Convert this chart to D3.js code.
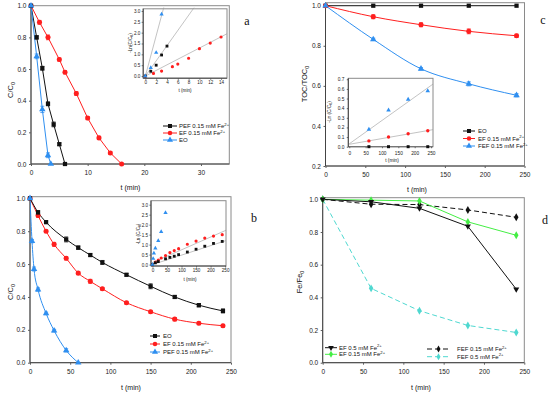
<!DOCTYPE html>
<html>
<head>
<meta charset="utf-8">
<script src="https://cdn.jsdelivr.net/npm/d3@7"></script>
<style>
  body { margin: 0; background: #fff; }
  svg { display: block; font-family: "Liberation Sans", Arial, sans-serif; }
</style>
</head>
<body>
<svg id="fig" width="550" height="394"></svg>
<script>
// ---------- panel a : C/C0 vs t ----------
const aPEF_t = [0, 1, 2, 3, 4, 5, 6];
const aPEF_c = [1, 0.80, 0.605, 0.38, 0.25, 0.125, 0];
const aPEF_e = [0, 0.01, 0.012, 0.012, 0.015, 0.008, 0];
const aEF_t = [0, 1.5, 3, 5, 6, 8, 10, 12, 14, 16];
const aEF_c = [1, 0.895, 0.80, 0.66, 0.58, 0.445, 0.29, 0.165, 0.07, 0];
const aEF_e = [0, 0.012, 0.015, 0.01, 0.01, 0.012, 0.01, 0.01, 0.008, 0];
const aEO_t = [0, 1, 2, 3, 3.5];
const aEO_c = [1, 0.68, 0.345, 0.055, 0];
const aEO_e = [0, 0.015, 0.02, 0.015, 0];
// inset a : -Ln(C/C0)
const aiPEF_t = [0, 1, 2, 3, 4];
const aiPEF_v = [0, 0.22, 0.5, 0.97, 1.38];
const aiEF_t = [0, 1.5, 3, 5, 6, 8, 10, 12, 14];
const aiEF_v = [0, 0.12, 0.23, 0.43, 0.55, 0.82, 1.26, 1.52, 1.8];
const aiEO_t = [0, 1, 2, 3];
const aiEO_v = [0, 0.38, 1.08, 2.85];
const aiFits = [[[0, 0], [3.4, 3.16]], [[0, 0], [9, 3.15]], [[0, 0], [15.1, 1.95]]];

// ---------- panel b ----------
const bEO_t = [0, 10, 20, 45, 60, 75, 90, 120, 150, 180, 210, 240];
const bEO_c = [1, 0.915, 0.855, 0.75, 0.70, 0.655, 0.61, 0.535, 0.465, 0.40, 0.35, 0.315];
const bEO_e = [0, 0.01, 0.008, 0.015, 0.01, 0.008, 0.012, 0.008, 0.015, 0.008, 0.01, 0.012];
const bEF_t = [0, 10, 20, 30, 45, 60, 75, 90, 120, 150, 180, 210, 240];
const bEF_c = [1, 0.895, 0.80, 0.72, 0.635, 0.545, 0.495, 0.45, 0.365, 0.31, 0.265, 0.24, 0.225];
const bEF_e = [0, 0.01, 0.008, 0.012, 0.01, 0.008, 0.012, 0.008, 0.008, 0.008, 0.01, 0.008, 0.008];
const bPEF_t = [0, 2.5, 5, 10, 20, 30, 45, 60];
const bPEF_c = [1, 0.74, 0.57, 0.445, 0.30, 0.195, 0.075, 0];
const bPEF_e = [0, 0.01, 0.012, 0.01, 0.008, 0.008, 0.01, 0];
// inset b
const biEO_v = [0, 0.09, 0.15, 0.29, 0.36, 0.42, 0.5, 0.63, 0.77, 0.92, 1.06, 1.16];
const biEF_v = [0, 0.12, 0.22, 0.33, 0.45, 0.6, 0.7, 0.8, 1.02, 1.18, 1.33, 1.43, 1.5];
const biPEF_t = [0, 2.5, 5, 10, 20, 30, 45];
const biPEF_v = [0, 0.3, 0.57, 0.82, 1.2, 1.65, 2.6];
const biFits = [[[0, 0.1], [253, 1.72]], [[0, 0], [253, 1.2]]];

// ---------- panel c : TOC/TOC0 ----------
const cTime = [0, 60, 120, 180, 240];
const cEO = [1, 1, 1, 1, 1];
const cEF = [1, 0.945, 0.905, 0.872, 0.85];
const cEF_e = [0, 0.01, 0.01, 0.012, 0.008];
const cFEF = [1, 0.832, 0.685, 0.61, 0.553];
const cFEF_e = [0, 0.006, 0.006, 0.01, 0.008];
// inset c
const ciTime = [60, 120, 180, 240];
const ciEO = [0, 0, 0, 0];
const ciEF = [0.06, 0.10, 0.135, 0.165];
const ciFEF = [0.18, 0.38, 0.49, 0.58];
const ciFits = [[[0, 0.03], [256, 0.65]], [[0, 0.025], [256, 0.177]], [[0, 0], [256, 0]]];

// ---------- panel d : Fe/Fe0 ----------
const dTime = [0, 60, 120, 180, 240];
const dEF05 = [1, 0.985, 0.945, 0.835, 0.45];
const dEF015 = [1, 0.995, 0.99, 0.862, 0.78];
const dFEF015 = [1, 0.97, 0.968, 0.935, 0.89];
const dFEF05 = [1, 0.455, 0.318, 0.228, 0.185];

const BLACK = "#111", RED = "#ff1f1f", BLUE = "#2f8ff0", GREEN = "#44ee44", CYAN = "#4fd8d0", GRAY = "#9a9a9a";
const SQ = d3.symbolSquare, CI = d3.symbolCircle, TR = d3.symbolTriangle, DI = d3.symbolDiamond;

const svg = d3.select("#fig");
const f1 = d3.format(".1f");

// text with sub / superscripts: parts = [[text, "sub"|"sup"|undefined], ...]
function rich(sel, parts, fs) {
  let shift = 0;
  parts.forEach(([s, k]) => {
    const target = k === "sub" ? fs * 0.3 : k === "sup" ? -fs * 0.4 : 0;
    const t = sel.append("tspan").text(s).attr("dy", target - shift);
    if (k) t.attr("font-size", fs * 0.7);
    shift = target;
  });
  return sel;
}

function label(x, y, parts, fs, opts = {}) {
  const t = svg.append("text")
    .attr("x", x).attr("y", y)
    .attr("font-size", fs)
    .attr("text-anchor", opts.anchor || "middle")
    .attr("fill", "#111");
  if (opts.rotate) t.attr("transform", `rotate(-90,${x},${y})`);
  if (opts.family) t.attr("font-family", opts.family);
  return rich(t, parts, fs);
}

let clipId = 0;
function frame(o) {
  const x = d3.scaleLinear().domain(o.xd).range([o.l, o.r]);
  const y = d3.scaleLinear().domain(o.yd).range([o.b, o.t]);
  const g = svg.append("g");
  if (o.bg) g.append("rect").attr("x", o.l).attr("y", o.t)
    .attr("width", o.r - o.l).attr("height", o.b - o.t).attr("fill", "#fff");

  const styleAxis = s => {
    s.attr("font-family", null);
    s.select(".domain").remove();
    s.selectAll("text").attr("font-size", o.fs).attr("fill", "#222");
    s.selectAll("line").attr("stroke", "#333").attr("stroke-width", 0.8);
  };
  g.append("g").attr("transform", `translate(0,${o.b})`)
    .call(d3.axisBottom(x).tickValues(o.xt).tickSize(o.ts).tickPadding(o.tpx).tickFormat(o.xf || d3.format("d")))
    .call(styleAxis);
  g.append("g").attr("transform", `translate(${o.l},0)`)
    .call(d3.axisLeft(y).tickValues(o.yt).tickSize(o.ts).tickPadding(o.tpy).tickFormat(o.yf || f1))
    .call(styleAxis);

  g.append("rect").attr("x", o.l).attr("y", o.t)
    .attr("width", o.r - o.l).attr("height", o.b - o.t)
    .attr("fill", "none").attr("stroke", "#8a8a8a").attr("stroke-width", 1);
  g.append("line").attr("x1", o.l).attr("x2", o.l).attr("y1", o.t).attr("y2", o.b)
    .attr("stroke", "#444").attr("stroke-width", 1);
  g.append("line").attr("x1", o.l).attr("x2", o.r).attr("y1", o.b).attr("y2", o.b)
    .attr("stroke", "#444").attr("stroke-width", 1);

  const id = "clip" + clipId++;
  svg.append("clipPath").attr("id", id).append("rect")
    .attr("x", o.l).attr("y", o.t - 4).attr("width", o.r - o.l).attr("height", o.b - o.t + 8);
  const plot = svg.append("g");
  const lines = plot.append("g").attr("clip-path", `url(#${id})`);
  return { x, y, plot, lines };
}

function marker(sel, shape, size, color, cx, cy, down) {
  sel.append("path")
    .attr("d", d3.symbol().type(shape).size(size)())
    .attr("transform", `translate(${cx},${cy})${down ? " rotate(180)" : ""}`)
    .attr("fill", color);
}

function series(P, xs, ys, color, shape, size, opt = {}) {
  const pts = xs.map((t, i) => [t, ys[i]]);
  if (opt.line !== false) {
    P.lines.append("path")
      .datum(pts)
      .attr("d", d3.line().x(d => P.x(d[0])).y(d => P.y(d[1])).curve(opt.curve || d3.curveLinear))
      .attr("fill", "none").attr("stroke", color)
      .attr("stroke-width", opt.sw || 1)
      .attr("stroke-dasharray", opt.dash || null);
  }
  if (opt.err) {
    const eg = P.plot.append("g").attr("stroke", color).attr("stroke-width", 0.8);
    pts.forEach((d, i) => {
      const e = opt.err[i];
      if (!e) return;
      const cx = P.x(d[0]), y1 = P.y(d[1] + e), y2 = P.y(d[1] - e);
      eg.append("line").attr("x1", cx).attr("x2", cx).attr("y1", y1).attr("y2", y2);
      [y1, y2].forEach(yy => eg.append("line").attr("x1", cx - 2).attr("x2", cx + 2).attr("y1", yy).attr("y2", yy));
    });
  }
  pts.forEach(d => marker(P.plot, shape, size, color, P.x(d[0]), P.y(d[1]), opt.down));
}

function fitLines(P, fits) {
  fits.forEach(f => {
    P.lines.append("line")
      .attr("x1", P.x(f[0][0])).attr("y1", P.y(f[0][1]))
      .attr("x2", P.x(f[1][0])).attr("y2", P.y(f[1][1]))
      .attr("stroke", GRAY).attr("stroke-width", 0.6);
  });
}

function legendRow(x0, x1, tx, y, color, shape, size, parts, opt = {}) {
  svg.append("line").attr("x1", x0).attr("x2", x1).attr("y1", y).attr("y2", y)
    .attr("stroke", color).attr("stroke-width", 1).attr("stroke-dasharray", opt.dash || null);
  marker(svg, shape, size, color, (x0 + x1) / 2, y, opt.down);
  label(tx, y + 2, parts, 6, { anchor: "start" });
}

const FE = [["Fe"], ["2+", "sup"]];
const MAIN = { fs: 6.5, ts: 2, tpx: 4.5, tpy: 2.5 };
const INSET = { fs: 4.6, ts: 1.5, tpx: 1.4, tpy: 1.4, bg: true };

// ================= panel a =================
const A = frame({ ...MAIN, l: 31, r: 229.3, t: 5.7, b: 164, xd: [0, 35], yd: [0, 1],
  xt: [0, 10, 20, 30], yt: d3.range(0, 1.01, 0.2) });
series(A, aEF_t, aEF_c, RED, CI, 20, { err: aEF_e });
series(A, aPEF_t, aPEF_c, BLACK, SQ, 18, { err: aPEF_e });
series(A, aEO_t, aEO_c, BLUE, TR, 18, { err: aEO_e });
label(130.5, 190, [["t (min)"]], 7);
label(13, 90, [["C/C"], ["0", "sub"]], 7.5, { rotate: true });
label(247, 25, [["a"]], 12, { family: "Liberation Serif, Times New Roman, serif" });
legendRow(163, 177, 179, 126, BLACK, SQ, 16, [["PEF 0.15 mM "], ...FE]);
legendRow(163, 177, 179, 133, RED, CI, 16, [["EF 0.15 mM "], ...FE]);
legendRow(163, 177, 179, 140, BLUE, TR, 16, [["EO"]]);

const AI = frame({ ...INSET, l: 143.2, r: 227, t: 8.8, b: 78.2, xd: [-0.4, 15.1], yd: [-0.1, 3.1],
  xt: d3.range(0, 15, 2), yt: d3.range(0, 3.01, 0.5) });
fitLines(AI, aiFits);
series(AI, aiEF_t, aiEF_v, RED, CI, 8, { line: false });
series(AI, aiPEF_t, aiPEF_v, BLACK, SQ, 8, { line: false });
series(AI, aiEO_t, aiEO_v, BLUE, TR, 8, { line: false });
label(185, 92, [["t (min)"]], 4.6);
label(132, 43, [["-Ln(C/C"], ["0", "sub"], [")"]], 4.6, { rotate: true });

// ================= panel b =================
const B = frame({ ...MAIN, l: 30, r: 231, t: 196.7, b: 362.7, xd: [0, 250], yd: [0, 1.01],
  xt: d3.range(0, 251, 50), yt: d3.range(0, 1.01, 0.2) });
series(B, bEF_t, bEF_c, RED, CI, 20, { err: bEF_e, curve: d3.curveMonotoneX });
series(B, bEO_t, bEO_c, BLACK, SQ, 18, { err: bEO_e, curve: d3.curveMonotoneX });
series(B, bPEF_t, bPEF_c, BLUE, TR, 18, { err: bPEF_e, curve: d3.curveMonotoneX });
label(131, 390, [["t (min)"]], 7);
label(13, 292, [["C/C"], ["0", "sub"]], 7.5, { rotate: true });
label(254, 222, [["b"]], 12, { family: "Liberation Serif, Times New Roman, serif" });
legendRow(150, 160, 163, 336, BLACK, SQ, 16, [["EO"]]);
legendRow(150, 160, 163, 344, RED, CI, 16, [["EF 0.15 mM "], ...FE]);
legendRow(150, 160, 163, 352, BLUE, TR, 16, [["PEF 0.15 mM "], ...FE]);

const BI = frame({ ...INSET, l: 151, r: 226, t: 200.7, b: 266, xd: [-5, 253], yd: [-0.07, 3.2],
  xt: d3.range(0, 251, 50), yt: d3.range(0, 3.01, 0.5) });
fitLines(BI, biFits);
series(BI, bEF_t, biEF_v, RED, CI, 8, { line: false });
series(BI, bEO_t, biEO_v, BLACK, SQ, 8, { line: false });
series(BI, biPEF_t, biPEF_v, BLUE, TR, 8, { line: false });
label(190, 281, [["t (min)"]], 4.6);
label(139.5, 234, [["-Ln (C/C"], ["0", "sub"], [")"]], 4.6, { rotate: true });

// ================= panel c =================
const C = frame({ ...MAIN, l: 325.5, r: 524.5, t: 2.7, b: 166, xd: [0, 250], yd: [0.2, 1.015],
  xt: d3.range(0, 251, 50), yt: d3.range(0.2, 1.01, 0.2) });
series(C, cTime, cEO, BLACK, SQ, 18);
series(C, cTime, cEF, RED, CI, 20, { err: cEF_e, curve: d3.curveMonotoneX });
series(C, cTime, cFEF, BLUE, TR, 18, { err: cFEF_e, curve: d3.curveMonotoneX });
label(417, 192, [["t (min)"]], 7);
label(307, 84, [["TOC/TOC"], ["0", "sub"]], 7.5, { rotate: true });
label(543, 24, [["c"]], 12, { family: "Liberation Serif, Times New Roman, serif" });
legendRow(463, 475, 478, 131, BLACK, SQ, 16, [["EO"]]);
legendRow(463, 475, 478, 138.5, RED, CI, 16, [["EF 0.15 mM "], ...FE]);
legendRow(463, 475, 478, 146, BLUE, TR, 16, [["FEF 0.15 mM "], ...FE]);

const CI_ = frame({ ...INSET, fs: 4.8, tpx: 3, tpy: 2.5, l: 348.3, r: 433, t: 78.3, b: 146.7,
  xd: [-3, 256], yd: [0, 0.71], xt: d3.range(0, 251, 50), yt: d3.range(0, 0.71, 0.1) });
fitLines(CI_, ciFits);
series(CI_, ciTime, ciFEF, BLUE, TR, 9, { line: false });
series(CI_, ciTime, ciEF, RED, CI, 9, { line: false });
series(CI_, ciTime, ciEO, BLACK, SQ, 9, { line: false });
label(392, 162, [["t (min)"]], 4.8);
label(331, 112, [["-Ln (C/C"], ["0", "sub"], [")"]], 4.8, { rotate: true });

// ================= panel d =================
const D = frame({ ...MAIN, l: 322.7, r: 524.3, t: 197.7, b: 362.7, xd: [0, 250], yd: [0, 1.01],
  xt: d3.range(0, 251, 50), yt: d3.range(0, 1.01, 0.2) });
series(D, dTime, dFEF05, CYAN, DI, 18, { dash: "5,3" });
series(D, dTime, dFEF015, BLACK, DI, 18, { dash: "5,3" });
series(D, dTime, dEF015, GREEN, DI, 18);
series(D, dTime, dEF05, BLACK, TR, 16, { down: true });
label(421, 390, [["t (min)"]], 7);
label(302, 282, [["Fe/Fe"], ["0", "sub"]], 7.5, { rotate: true });
label(545, 224, [["d"]], 12, { family: "Liberation Serif, Times New Roman, serif" });
legendRow(325, 337, 339, 347.7, BLACK, TR, 14, [["EF 0.5 mM "], ...FE], { down: true });
legendRow(325, 337, 339, 354.3, GREEN, DI, 14, [["EF 0.15 mM "], ...FE]);
legendRow(427, 450, 457, 349, BLACK, DI, 14, [["FEF 0.15 mM "], ...FE], { dash: "5,3" });
legendRow(427, 450, 457, 356.7, CYAN, DI, 14, [["FEF 0.5 mM "], ...FE], { dash: "5,3" });
</script>
</body>
</html>
